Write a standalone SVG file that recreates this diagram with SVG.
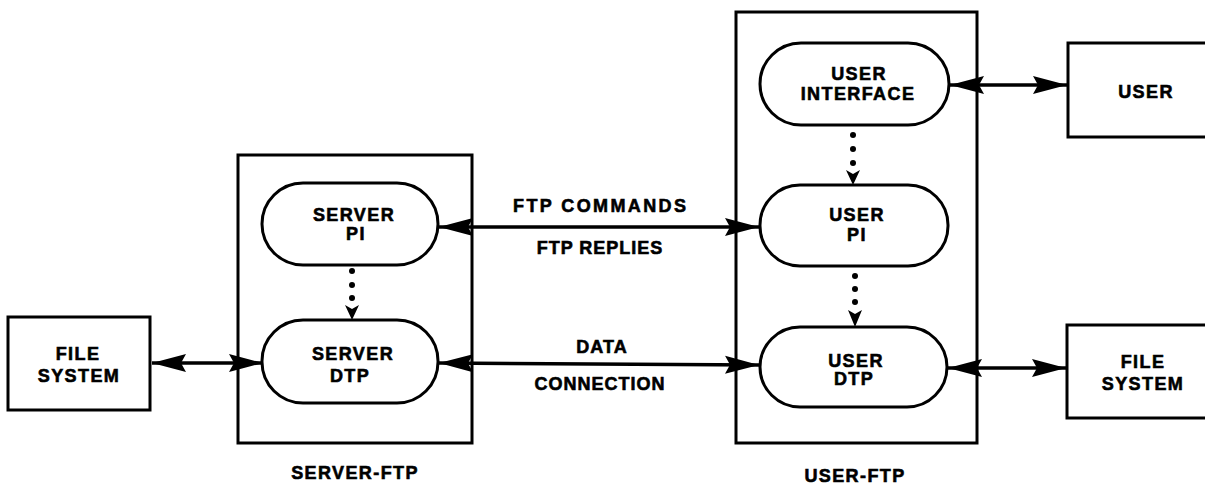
<svg xmlns="http://www.w3.org/2000/svg" width="1205" height="484" viewBox="0 0 1205 484">
<style>
.box{fill:none;stroke:#000;stroke-width:3}
.pill{fill:#fff;stroke:#000;stroke-width:3}
.t{font-family:"Liberation Sans",Arial,sans-serif;font-weight:bold;font-size:18px;letter-spacing:1.4px;text-anchor:middle;fill:#000;stroke:#000;stroke-width:0.6}
.l{font-family:"Liberation Sans",Arial,sans-serif;font-weight:bold;font-size:18px;letter-spacing:1px;text-anchor:middle;fill:#000;stroke:#000;stroke-width:0.6}
.c{stroke:#000;stroke-width:3.5;fill:none}
.dot{fill:#000}
</style>
<defs>
<marker id="ah" markerUnits="userSpaceOnUse" markerWidth="36" markerHeight="20" refX="34" refY="10" orient="auto-start-reverse" viewBox="0 0 36 20">
<path d="M0,1 L34,10 L0,19 L5,10 z" fill="#000"/>
</marker>
</defs>
<rect width="1205" height="484" fill="#fff"/>

<g id="server-ftp">
<rect class="box" x="238" y="155" width="234" height="288"/>
<text class="t" x="355" y="479">SERVER-FTP</text>
</g>
<g id="user-ftp">
<rect class="box" x="736" y="12" width="241" height="431"/>
<text class="t" x="855" y="482">USER-FTP</text>
</g>

<g id="file-system-left">
<rect class="box" x="8" y="317" width="142" height="93"/>
<text class="t" x="78" y="360">FILE</text>
<text class="t" x="79" y="382">SYSTEM</text>
</g>

<g id="server-pi">
<rect class="pill" x="262" y="183" width="176" height="82" rx="41" ry="41"/>
<text class="t" x="354" y="221">SERVER</text>
<text class="t" x="356" y="240">PI</text>
</g>

<g id="server-dtp">
<rect class="pill" x="262" y="320" width="176" height="83" rx="41" ry="41"/>
<text class="t" x="353" y="360">SERVER</text>
<text class="t" x="350" y="382">DTP</text>
</g>

<g id="user-interface">
<rect class="pill" x="760" y="43" width="189" height="82" rx="41" ry="41"/>
<text class="t" x="859" y="80">USER</text>
<text class="t" x="858" y="100">INTERFACE</text>
</g>

<g id="user-pi">
<rect class="pill" x="760" y="185" width="188" height="81" rx="40" ry="40"/>
<text class="t" x="857" y="221">USER</text>
<text class="t" x="857" y="241">PI</text>
</g>

<g id="user-dtp">
<rect class="pill" x="760" y="327" width="187" height="80" rx="40" ry="40"/>
<text class="t" x="856" y="367">USER</text>
<text class="t" x="854" y="385">DTP</text>
</g>

<g id="user">
<rect class="box" x="1068" y="43" width="150" height="94"/>
<text class="t" x="1146" y="98">USER</text>
</g>

<g id="file-system-right">
<rect class="box" x="1067" y="325" width="150" height="93"/>
<text class="t" x="1143" y="368">FILE</text>
<text class="t" x="1143" y="390">SYSTEM</text>
</g>

<g id="connectors">
<line class="c" x1="152" y1="363" x2="263" y2="363" marker-start="url(#ah)" marker-end="url(#ah)"/>
<line class="c" x1="439" y1="227" x2="759" y2="227" marker-start="url(#ah)" marker-end="url(#ah)"/>
<line class="c" x1="439" y1="363" x2="759" y2="365" marker-start="url(#ah)" marker-end="url(#ah)"/>
<line class="c" x1="948" y1="368" x2="1066" y2="368" marker-start="url(#ah)" marker-end="url(#ah)"/>
<line class="c" x1="950" y1="85" x2="1067" y2="85" marker-start="url(#ah)" marker-end="url(#ah)"/>

<circle class="dot" cx="352" cy="271" r="3"/>
<circle class="dot" cx="352" cy="285" r="3"/>
<circle class="dot" cx="352" cy="298" r="3"/>
<path class="dot" d="M345,305 L352,309 L359,305 L352,320 z"/>

<circle class="dot" cx="853" cy="135" r="3"/>
<circle class="dot" cx="853" cy="149" r="3"/>
<circle class="dot" cx="853" cy="163" r="3"/>
<path class="dot" d="M846,170 L853,174 L860,170 L853,185 z"/>

<circle class="dot" cx="855" cy="276" r="3"/>
<circle class="dot" cx="855" cy="289" r="3"/>
<circle class="dot" cx="855" cy="302" r="3"/>
<path class="dot" d="M848,310 L855,314 L862,310 L855,327 z"/>

<text class="l" x="600" y="212" textLength="174" lengthAdjust="spacing">FTP COMMANDS</text>
<text class="l" x="600" y="254">FTP REPLIES</text>
<text class="l" x="602" y="353">DATA</text>
<text class="l" x="600" y="390">CONNECTION</text>
</g>
</svg>
